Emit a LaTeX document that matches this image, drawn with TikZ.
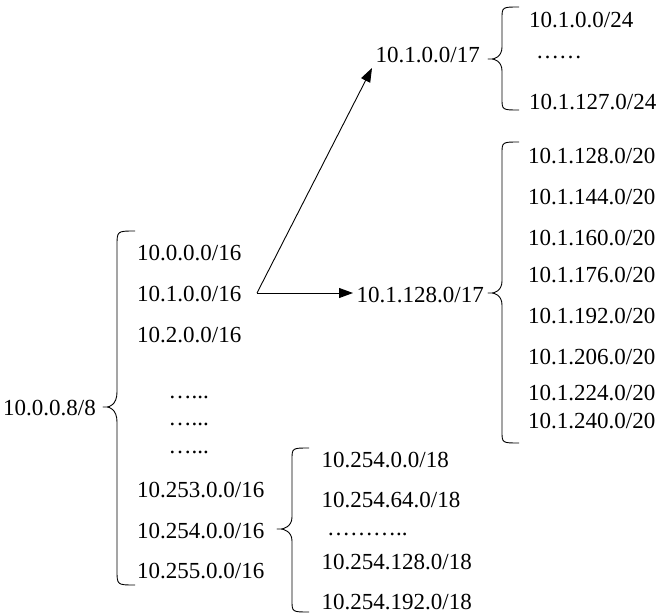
\documentclass[tikz,border=0pt]{standalone}
\usepackage{fontspec}
\setmainfont{Liberation Serif}
\usetikzlibrary{arrows.meta}
\newcommand\cbrace[7]{% xv xe ytop ybot xtip ytip r
  \draw[bracepath] ({#2},{#3}) .. controls ({#1},{#3}) .. ({#1},{#3+#7}) -- ({#1},{#6-#7})
    .. controls ({#1},{#6-2}) and ({#5+6},{#6}) .. ({#5+4},{#6}) -- ({#5},{#6}) -- ({#5+4},{#6})
    .. controls ({#5+6},{#6}) and ({#1},{#6+2}) .. ({#1},{#6+#7})
    -- ({#1},{#4-#7}) .. controls ({#1},{#4}) .. ({#2},{#4});}
\begin{document}
\begin{tikzpicture}[x=1pt,y=-1pt,
  lbl/.style={anchor=base west,inner sep=0pt,font=\fontsize{23}{27}\selectfont},
  bracepath/.style={line width=0.9pt,line join=round},
  arr/.style={line width=0.9pt,-{Triangle[length=14pt,width=10pt]}}]
\useasboundingbox (0,0) rectangle (662,616);
% root
\node[lbl] (root) at (3,415) {10.0.0.8/8};
\cbrace{117}{135}{231}{585}{103}{407}{15}
% left column
\node[lbl] (a0) at (137,260) {10.0.0.0/16};
\node[lbl] (a1) at (137,301) {10.1.0.0/16};
\node[lbl] (a2) at (137,342) {10.2.0.0/16};
\node[lbl] (d1) at (168.5,398) {\char"2026...};
\node[lbl] (d2) at (168.5,425) {\char"2026...};
\node[lbl] (d3) at (168.5,453) {\char"2026...};
\node[lbl] (a253) at (137,497) {10.253.0.0/16};
\node[lbl] (a254) at (137,538) {10.254.0.0/16};
\node[lbl] (a255) at (137,578) {10.255.0.0/16};
% /17 nodes
\node[lbl] (b0) at (375.5,62) {10.1.0.0/17};
\node[lbl] (b1) at (356.5,302) {10.1.128.0/17};
\coordinate (s) at (257,293);
\coordinate (t0) at (372,68);
\draw[arr] (s) -- (t0);
\draw[arr] (s) -- (353,293);
% /24
\cbrace{502}{519}{7}{110}{488}{59}{12}
\node[lbl] (c0) at (529,27) {10.1.0.0/24};
\node[lbl] (cd) at (536,58) {\char"2026\char"2026};
\node[lbl] (c127) at (529,109) {10.1.127.0/24};
% /20
\cbrace{502}{519}{142}{443}{488}{293}{12}
\node[lbl] (e128) at (528,163) {10.1.128.0/20};
\node[lbl] (e144) at (528,204) {10.1.144.0/20};
\node[lbl] (e160) at (528,245) {10.1.160.0/20};
\node[lbl] (e176) at (528,282) {10.1.176.0/20};
\node[lbl] (e192) at (528,323) {10.1.192.0/20};
\node[lbl] (e206) at (528,364) {10.1.206.0/20};
\node[lbl] (e224) at (528,400) {10.1.224.0/20};
\node[lbl] (e240) at (528,428) {10.1.240.0/20};
% /18
\cbrace{292}{309}{448}{612}{277}{529}{12}
\node[lbl] (f0) at (321.5,467) {10.254.0.0/18};
\node[lbl] (f64) at (321.5,507) {10.254.64.0/18};
\node[lbl] (fd) at (327,535) {\char"2026\char"2026\char"2026..};
\node[lbl] (f128) at (321.5,569) {10.254.128.0/18};
\node[lbl] (f192) at (321.5,609) {10.254.192.0/18};
\end{tikzpicture}
\end{document}
